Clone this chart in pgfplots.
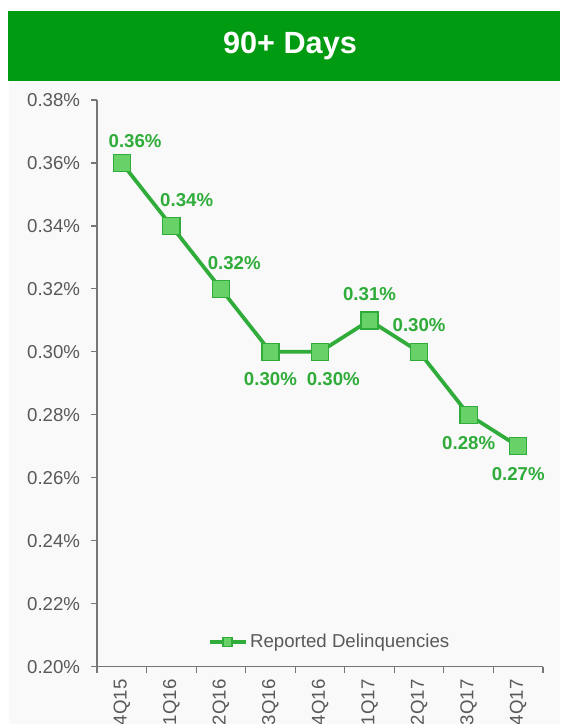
\documentclass[border=0pt]{standalone}
\usepackage{pgfplots}
\pgfplotsset{compat=1.18}
\usepackage{fontspec}
\setmainfont{Liberation Sans}
\definecolor{titlegreen}{RGB}{0,155,16}
\definecolor{linegreen}{RGB}{47,172,57}
\definecolor{markfill}{RGB}{104,210,104}
\definecolor{txtgray}{RGB}{89,89,89}
\definecolor{bggray}{RGB}{249,249,249}
\definecolor{axgray}{RGB}{118,118,118}
\begin{document}
\begin{tikzpicture}
\useasboundingbox (0,0) rectangle (420pt,543pt);
\clip (0,0) rectangle (420pt,543pt);
\fill[white] (0,0) rectangle (420pt,543pt);
\fill[bggray] (6.75pt,0) rectangle (420pt,482.25pt);
\fill[titlegreen] (6pt,482.25pt) rectangle (420pt,534.75pt);
\node[text=white,font=\fontsize{23}{27}\selectfont\bfseries] at (217.5pt,508.5pt) {90+ Days};
\begin{axis}[
  at={(72.75pt,43pt)}, anchor=south west,
  scale only axis, width=334.5pt, height=425pt,
  xmin=-0.5, xmax=8.5, ymin=0.20, ymax=0.38,
  axis x line*=bottom, axis y line*=left,
  axis line style={axgray, line width=0.9pt, -},
  xtick={0,...,8},
  xticklabels={4Q15,1Q16,2Q16,3Q16,4Q16,1Q17,2Q17,3Q17,4Q17},
  major x tick style={draw=none},
  minor xtick={-0.5,0.5,1.5,2.5,3.5,4.5,5.5,6.5,7.5,8.5},
  minor x tick style={axgray, line width=0.9pt},
  ytick={0.20,0.22,0.24,0.26,0.28,0.30,0.32,0.34,0.36,0.38},
  yticklabels={0.20\%,0.22\%,0.24\%,0.26\%,0.28\%,0.30\%,0.32\%,0.34\%,0.36\%,0.38\%},
  y tick style={axgray, line width=0.9pt},
  tick align=outside, major tick length=4.5pt, minor tick length=4.5pt,
  ticklabel style={text=txtgray, font=\fontsize{14}{16}\selectfont},
  xticklabel style={rotate=90, anchor=east, inner sep=0pt},
  xticklabel shift=5pt,
  yticklabel style={inner sep=0pt},
  yticklabel shift=8pt,
  legend style={at={(0.522,0.0436)}, anchor=center, draw=none, fill=none,
    font=\fontsize{14}{16}\selectfont, text=txtgray,
    legend cell align=left, inner sep=0pt},
  legend image code/.code={\draw[#1, mark size=3.4pt, mark repeat=2, mark phase=2] plot coordinates {(0pt,0pt) (13.5pt,0pt) (27pt,0pt)};},
  clip=false,
]
\addplot[linegreen, line width=2.8pt, mark=square*, mark size=6.4pt,
  mark options={fill=markfill, draw=linegreen, line width=1pt}]
  coordinates {(0,0.36) (1,0.34) (2,0.32) (3,0.30) (4,0.30) (5,0.31) (6,0.30) (7,0.28) (8,0.27)};
\addlegendentry{Reported Delinquencies}
\begin{scope}[every node/.style={text=linegreen, font=\fontsize{14}{16}\selectfont\bfseries}]
\node at (axis cs:0,0.36) [xshift=10pt, yshift=16.5pt] {0.36\%};
\node at (axis cs:1,0.34) [xshift=11.5pt, yshift=19.5pt] {0.34\%};
\node at (axis cs:2,0.32) [xshift=10pt, yshift=19.5pt] {0.32\%};
\node at (axis cs:3,0.30) [xshift=0pt, yshift=-20.5pt] {0.30\%};
\node at (axis cs:4,0.30) [xshift=10pt, yshift=-20.5pt] {0.30\%};
\node at (axis cs:5,0.31) [xshift=0pt, yshift=19.5pt] {0.31\%};
\node at (axis cs:6,0.30) [xshift=0pt, yshift=20pt] {0.30\%};
\node at (axis cs:7,0.28) [xshift=0pt, yshift=-21pt] {0.28\%};
\node at (axis cs:8,0.27) [xshift=0pt, yshift=-21pt] {0.27\%};
\end{scope}
\end{axis}
\end{tikzpicture}
\end{document}
